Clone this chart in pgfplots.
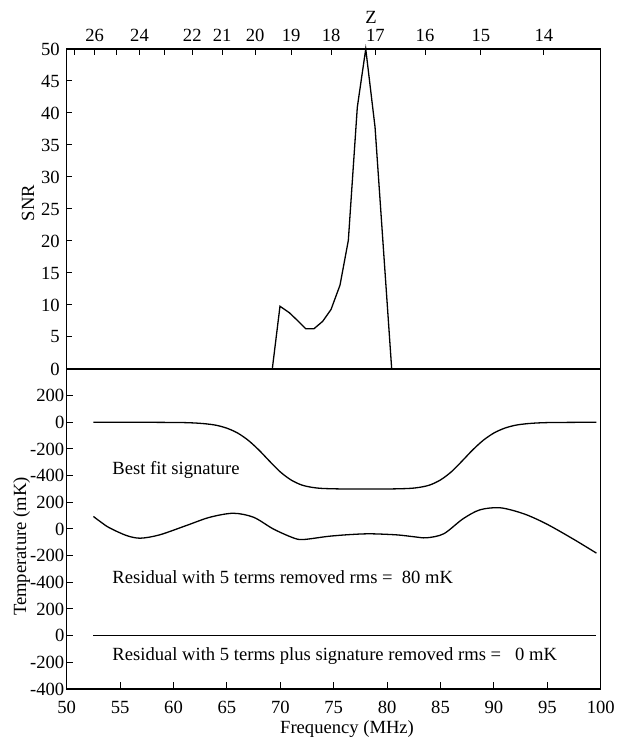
\documentclass[border=0pt]{standalone}
\usepackage{fontspec}
\setmainfont{Liberation Serif}
\usepackage{pgfplots}
\pgfplotsset{compat=1.18}

\begin{document}
\begin{tikzpicture}[font=\fontsize{9.3}{11}\selectfont]
\path[use as bounding box] (-33.35pt,-26.5pt) rectangle (275.15pt,344.5pt);
\pgfplotsset{
  every axis/.append style={
    width=267pt, height=160pt, scale only axis,
    xmin=50, xmax=100,
    axis line style={line width=0.55pt},
    tick style={line width=0.5pt, black},
    tick align=inside,
    /pgf/number format/assume math mode=true,
    tick label style={font=\fontsize{9.3}{11}\selectfont},
    label style={font=\fontsize{9.3}{11}\selectfont},
  }
}

% top panel: SNR, redshift on the upper axis
\begin{axis}[
  at={(0,160pt)}, anchor=south west,
  clip=false,
  ymin=0, ymax=50, ytick={0,5,...,50},
  ytick pos=left,
  xtick pos=right, xticklabel pos=right,
  xtick={50.73,52.61,54.63,56.82,59.18,61.76,64.56,67.64,71.02,74.76,78.91,83.55,88.78,94.69},
  xticklabels={,26,,24,,22,21,20,19,18,17,16,15,14},
  major tick length=2.8pt,
  ylabel={SNR},
  ylabel style={at={(axis description cs:-0.0725,0.518)}, anchor=center},
]
\addplot[black, line width=0.65pt] coordinates {
  (50,0) (69.25,0) (69.97,9.8) (70.84,8.8) (71.69,7.45) (72.38,6.3)
  (73.16,6.3) (73.97,7.45) (74.75,9.3) (75.59,13.1) (76.37,20.1)
  (77.21,40.9) (78.0,50) (78.87,37.8) (80.43,0) (100,0)
};
\node at (axis cs:78.5,50) [yshift=16pt] {Z};
\end{axis}

% bottom panel: three curves with offsets of 2000, 1200 and 400 mK
\begin{axis}[
  at={(0,0)}, anchor=south west,
  ymin=0, ymax=2400,
  ytick={0,200,...,2200},
  yticklabels={-400,-200,0,200,-400,-200,0,200,-400,-200,0,200},
  yticklabel style={inner xsep=1pt},
  xticklabel style={yshift=-2.5pt},
  xtick={50,55,...,100},
  xtick pos=left, ytick pos=left,
  major tick length=3.3pt,
  xlabel={Frequency (MHz)},
  xlabel style={at={(axis description cs:0.525,-0.124)}, anchor=center},
  ylabel={Temperature (mK)},
  ylabel style={at={(axis description cs:-0.0843,0.445)}, anchor=center},
]
\addplot[black, line width=0.65pt, smooth, y filter/.expression={y+2000}] coordinates {
  (52.5,0) (54,0) (56,0) (58,0) (60,-1) (61,-2) (62,-5) (63,-11) (64,-22)
  (65,-44) (66,-80) (67,-135) (68,-208) (69,-292) (70,-372) (71,-432)
  (72,-470) (73,-488) (74,-496) (76,-500) (78,-500) (80,-500) (82,-496)
  (83,-488) (84,-470) (85,-432) (86,-372) (87,-292) (88,-208) (89,-135)
  (90,-80) (91,-44) (92,-22) (93,-11) (94,-5) (95,-2) (96,-1) (98,0) (99.6,0)
};
\addplot[black, line width=0.65pt, smooth, y filter/.expression={y+1200}] coordinates {
  (52.5,94) (53.2,52) (54,9) (55.6,-49) (56.9,-69) (58.7,-44) (61.2,26)
  (63.4,88) (65.6,118) (67.5,88) (69.35,0) (71.2,-66) (72.15,-79)
  (74.5,-55) (76.5,-42) (78.4,-36) (80.9,-44) (82.5,-58) (83.7,-66)
  (85.3,-36) (87.1,76) (88.7,144) (90.6,159) (92.8,114) (94.9,39)
  (97.4,-74) (99.6,-181)
};
\addplot[black, line width=0.65pt, y filter/.expression={y+400}] coordinates {
  (52.5,0) (60,0) (70,0) (80,0) (90,0) (99.6,0)
};
\node[anchor=west, inner sep=0pt] at (axis cs:54.25,1646) {Best fit signature};
\node[anchor=west, inner sep=0pt] at (axis cs:54.25,841) {Residual with 5 terms removed rms =\ \ 80 mK};
\node[anchor=west, inner sep=0pt] at (axis cs:54.25,249) {Residual with 5 terms plus signature removed rms =\ \ \ 0 mK};
\end{axis}
\end{tikzpicture}
\end{document}
